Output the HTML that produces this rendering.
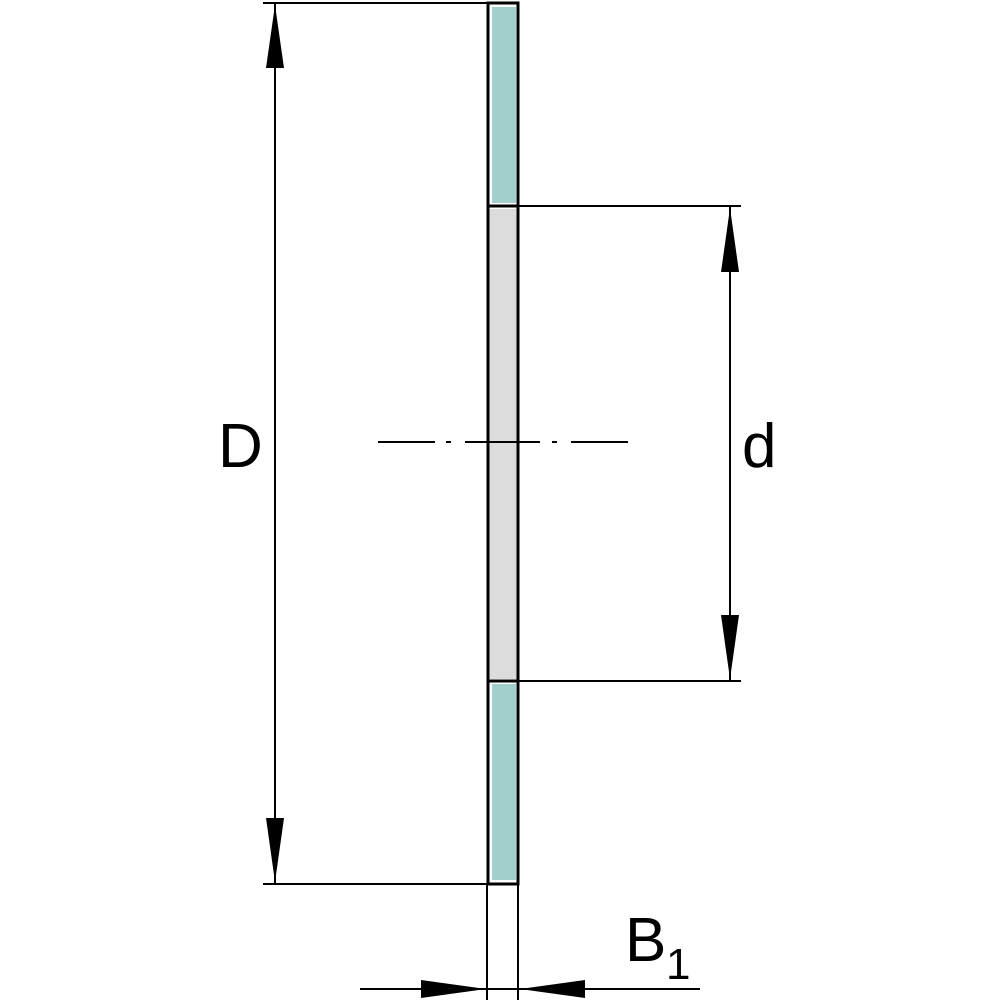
<!DOCTYPE html>
<html><head><meta charset="utf-8"><style>html,body{margin:0;padding:0;background:#fff}svg{display:block}</style></head>
<body>
<svg width="1000" height="1000" viewBox="0 0 1000 1000" xmlns="http://www.w3.org/2000/svg">
<!-- fills -->
<rect x="492" y="7" width="24" height="196" fill="#a3cfca"/>
<rect x="492" y="684" width="24" height="196" fill="#a3cfca"/>
<rect x="489" y="209" width="29" height="470" fill="#dcdcdc"/>
<!-- washer outline -->
<g stroke="#000" stroke-width="3" fill="none">
<rect x="488" y="3" width="30" height="881"/>
<line x1="488" y1="206" x2="518" y2="206"/>
<line x1="488" y1="681" x2="518" y2="681"/>
</g>
<!-- thin lines -->
<g stroke="#000" stroke-width="2" fill="none">
<line x1="263" y1="3" x2="488" y2="3"/>
<line x1="263" y1="884" x2="488" y2="884"/>
<line x1="275" y1="3" x2="275" y2="884"/>
<line x1="518" y1="206" x2="741" y2="206"/>
<line x1="518" y1="681" x2="741" y2="681"/>
<line x1="730" y1="206" x2="730" y2="681"/>
<line x1="487" y1="884" x2="487" y2="1000"/>
<line x1="518" y1="884" x2="518" y2="1000"/>
<line x1="360" y1="989" x2="700" y2="989"/>
<line x1="378" y1="442" x2="435" y2="442"/>
<line x1="446" y1="442" x2="451" y2="442"/>
<line x1="465" y1="442" x2="540" y2="442"/>
<line x1="552" y1="442" x2="557" y2="442"/>
<line x1="571" y1="442" x2="628" y2="442"/>
</g>
<!-- arrows -->
<g fill="#000">
<polygon points="275,5 266,68 284,68"/>
<polygon points="275,882 266,818 284,818"/>
<polygon points="730,208 721,272 739,272"/>
<polygon points="730,679 721,615 739,615"/>
<polygon points="486,989 421,980 421,998"/>
<polygon points="520,989 585,980 585,998"/>
</g>
<g font-family="Liberation Sans, DejaVu Sans, sans-serif" fill="#000">
<text x="218" y="467" font-size="62">D</text>
<text x="742" y="467" font-size="62">d</text>
<text x="625" y="961" font-size="62">B</text>
<text x="666" y="979" font-size="44">1</text>
</g>
</svg>
</body></html>
